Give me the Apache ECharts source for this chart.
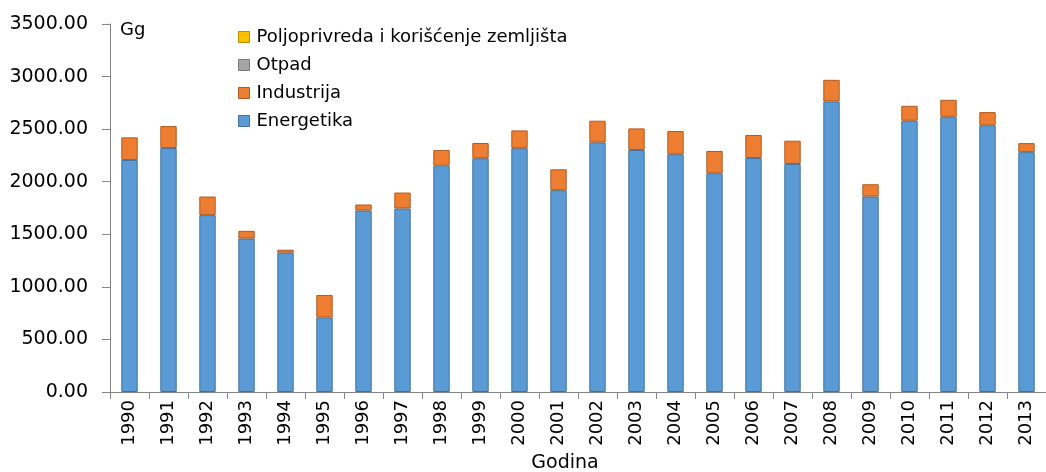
<!DOCTYPE html>
<html>
<head>
<meta charset="utf-8">
<script src="https://cdn.jsdelivr.net/npm/echarts@6/dist/echarts.min.js"></script>
<style>
  html, body { margin: 0; padding: 0; background: #fff; }
  #chart { width: 1046px; height: 472px; }
</style>
</head>
<body>
<div id="chart"></div>
<script>
// godine
var years = ['1990', '1991', '1992', '1993', '1994', '1995', '1996', '1997', '1998', '1999', '2000', '2001',
             '2002', '2003', '2004', '2005', '2006', '2007', '2008', '2009', '2010', '2011', '2012', '2013'];
// emisije po sektorima (Gg)
var energetika = [2207, 2320, 1682, 1460, 1325, 708, 1726, 1745, 2153, 2223, 2318, 1919,
                  2374, 2302, 2261, 2080, 2226, 2169, 2763, 1859, 2580, 2618, 2536, 2281];
var industrija = [215, 209, 177, 73, 28, 215, 57, 152, 149, 145, 170, 199,
                  206, 205, 221, 212, 218, 221, 206, 117, 142, 161, 126, 86];
var otpad = [0, 0, 0, 0, 0, 0, 0, 0, 0, 0, 0, 0, 0, 0, 0, 0, 0, 0, 0, 0, 0, 0, 0, 0];
var poljoprivreda = [0, 0, 0, 0, 0, 0, 0, 0, 0, 0, 0, 0, 0, 0, 0, 0, 0, 0, 0, 0, 0, 0, 0, 0];
var yTicks = [0, 500, 1000, 1500, 2000, 2500, 3000, 3500];

var chart = echarts.init(document.getElementById('chart'), null, { renderer: 'canvas' });
var font = 'DejaVu Sans, sans-serif';

function bar(name, data, color, border, bw) {
    return {
        name: name,
        type: 'bar',
        stack: 'total',
        data: data,
        barWidth: '42%',
        itemStyle: { color: color, borderColor: border, borderWidth: bw },
        emphasis: { disabled: true }
    };
}

var option = {
    animation: false,
    grid: { left: 110, right: -10, top: 24, bottom: 80, containLabel: false },
    legend: {
        orient: 'vertical',
        left: 233,
        top: 23,
        itemWidth: 11,
        itemHeight: 11,
        itemGap: 10,
        icon: 'rect',
        itemStyle: { borderWidth: 1 },
        textStyle: { fontFamily: font, fontSize: 18, color: '#000', padding: [0, 0, 0, 2] },
        data: [
            { name: 'Poljoprivreda i korišćenje zemljišta', itemStyle: { borderColor: '#BC8C00', borderWidth: 1 } },
            { name: 'Otpad', itemStyle: { borderColor: '#787878', borderWidth: 1 } },
            { name: 'Industrija', itemStyle: { borderColor: '#AE5A21', borderWidth: 1 } },
            { name: 'Energetika', itemStyle: { borderColor: '#41719C', borderWidth: 1 } }
        ]
    },
    graphic: [{
        type: 'text',
        left: 120,
        top: 21,
        style: { text: 'Gg', font: '18px ' + font, fill: '#000' }
    }, {
        type: 'text',
        x: 565,
        y: 463,
        style: { text: 'Godina', font: '19px ' + font, fill: '#000', align: 'center', verticalAlign: 'middle' }
    }],
    xAxis: {
        type: 'category',
        data: years,
        axisLine: { lineStyle: { color: '#868686', width: 1 } },
        axisTick: { show: true, alignWithLabel: false, length: 7, lineStyle: { color: '#868686' } },
        axisLabel: { rotate: 90, fontFamily: font, fontSize: 18, color: '#000', margin: 8 }
    },
    yAxis: {
        type: 'value',
        min: yTicks[0],
        max: yTicks[yTicks.length - 1],
        interval: 500,
        axisLine: { show: true, lineStyle: { color: '#868686', width: 1 } },
        axisTick: { show: true, length: 8, lineStyle: { color: '#868686' } },
        splitLine: { show: false },
        axisLabel: {
            fontFamily: font, fontSize: 19, color: '#000', margin: 22,
            formatter: function (v) { return v.toFixed(2); }
        }
    },
    series: [
        bar('Energetika', energetika, '#5B9BD5', '#41719C', 1),
        bar('Industrija', industrija, '#ED7D31', '#AE5A21', 1),
        bar('Otpad', otpad, '#A5A5A5', '#787878', 0),
        bar('Poljoprivreda i korišćenje zemljišta', poljoprivreda, '#FFC000', '#BC8C00', 0)
    ]
};
chart.setOption(option);
</script>
</body>
</html>
